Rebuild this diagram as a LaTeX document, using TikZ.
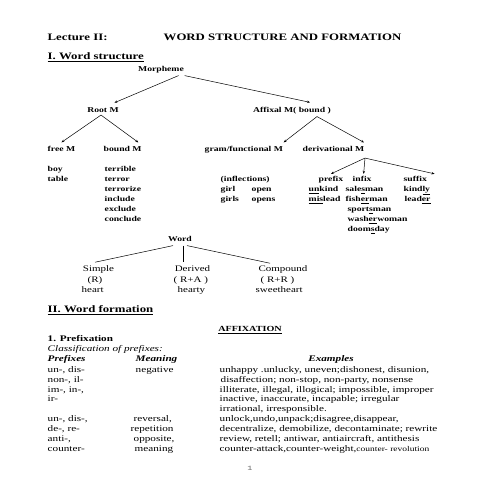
\documentclass[tikz,border=0pt]{standalone}
\usepackage{fontspec}
\setmainfont{Liberation Serif}[FakeStretch=1.3]
\setmonofont{Liberation Mono}[FakeStretch=1.3]
\usetikzlibrary{arrows.meta}

\begin{document}
\begin{tikzpicture}[
    x=1pt, y=-1pt,
    txt/.style={inner sep=0.5pt, anchor=mid west},
    head/.style={txt, font=\fontsize{9.85}{11}\selectfont\bfseries},
    tree/.style={inner sep=0.5pt, anchor=mid, font=\fontsize{7.45}{8}\selectfont\bfseries},
    wrd/.style={tree, anchor=mid west},
    kind/.style={inner sep=0.5pt, anchor=mid, font=\fontsize{8.45}{9}\selectfont},
    kindw/.style={kind, anchor=mid west},
    body/.style={txt, font=\fontsize{8.6}{9}\selectfont},
    colhead/.style={txt, font=\fontsize{8.6}{9}\selectfont\bfseries\itshape},
    arr/.style={-{Stealth[length=3pt,width=2.4pt]}, line width=0.5pt},
    link/.style={line width=0.5pt},
]
\useasboundingbox (0,0) rectangle (495,495);
\fill[white] (0,0) rectangle (495,495);

% headings
\node[head] (lect) at (47,38) {Lecture II:};
\node[head] (title) at (163,38) {WORD STRUCTURE AND FORMATION};
\node[head] (sec1) at (47,57) {\underline{I. Word structure}};

% morpheme tree
\node[tree] (morph) at (161,69) {Morpheme};
\node[tree] (root) at (103,110) {Root M};
\node[tree] (affix) at (292,110) {Affixal M( bound )};
\node[wrd] (free) at (47,149) {free M};
\node[wrd] (bound) at (103,149) {bound M};
\node[wrd] (gram) at (204,149) {gram/functional M};
\node[wrd] (deriv) at (302,149) {derivational M};

\node[wrd] (boy) at (47,169) {boy};
\node[wrd] (table) at (47,179) {table};
\node[wrd] (terrible) at (104,169) {terrible};
\node[wrd] (terror) at (104,179) {terror};
\node[wrd] (terrorize) at (104,189) {terrorize};
\node[wrd] (include) at (104,199) {include};
\node[wrd] (exclude) at (104,209) {exclude};
\node[wrd] (conclude) at (104,219) {conclude};

\node[wrd] (infl) at (220,179) {(inflections)};
\node[wrd] (girl) at (220,189) {girl};
\node[wrd] (girls) at (220,199) {girls};
\node[wrd] (open) at (251,189) {open};
\node[wrd] (opens) at (251,199) {opens};

\node[wrd] (prefix) at (318,179) {prefix};
\node[wrd] (infix) at (352,179) {infix};
\node[wrd] (suffix) at (403,179) {suffix};
\node[wrd] (unkind) at (308,189) {\underline{un}kind};
\node[wrd] (mislead) at (308,199) {\underline{mis}lead};
\node[wrd] (salesman) at (345,189) {sale\underline{s}man};
\node[wrd] (fisherman) at (345,199) {fish\underline{er}man};
\node[wrd] (sportsman) at (347,209) {sport\underline{s}man};
\node[wrd] (washer) at (347,219) {wash\underline{er}woman};
\node[wrd] (doomsday) at (347,229) {doom\underline{s}day};
\node[wrd] (kindly) at (403,189) {kind\underline{ly}};
\node[wrd] (leader) at (404,199) {lead\underline{er}};

\draw[arr] ([xshift=-6pt,yshift=-2pt]morph.south east) -- ([xshift=-5pt,yshift=4pt]root.north east);
\draw[arr] ([yshift=-2pt]morph.south east) -- ([xshift=18pt,yshift=4pt]affix.north);
\draw[arr] ([xshift=-2pt,yshift=-2pt]root.south) -- ([yshift=3pt]free.north);
\draw[arr] ([xshift=-2pt,yshift=-2pt]root.south) -- ([xshift=-4pt,yshift=3pt]bound.north east);
\draw[arr] ([xshift=25pt,yshift=-2pt]affix.south) -- ([yshift=3pt]gram.north east);
\draw[arr] ([xshift=25pt,yshift=-2pt]affix.south) -- ([xshift=-1pt,yshift=3pt]deriv.north east);
\draw[arr] ([yshift=-6pt]deriv.south east) -- ([yshift=1.5pt]prefix.north);
\draw[arr] ([yshift=-6pt]deriv.south east) -- ([xshift=1.5pt,yshift=1.5pt]infix.north);
\draw[arr] ([yshift=-6pt]deriv.south east) -- ([xshift=7pt,yshift=1.5pt]suffix.north east);

% word tree
\node[tree] (word) at (180,239) {Word};
\node[kind] (simple) at (98.5,269) {Simple};
\node[kindw] (simpr) at (87,280) {(R)};
\node[kindw] (heart) at (81,290) {heart};
\node[kind] (derived) at (192.5,269) {Derived};
\node[kindw] (derivr) at (173,280) {( R+A )};
\node[kindw] (hearty) at (177,290) {hearty};
\node[kind] (compound) at (283,269) {Compound};
\node[kindw] (compr) at (260,280) {( R+R )};
\node[kindw] (sweet) at (255,290) {sweetheart};

\draw[link] ([xshift=-7pt,yshift=-3.5pt]word.south) -- ([xshift=-3.5pt,yshift=2.5pt]simple.north);
\draw[link] ([xshift=3pt,yshift=-3.5pt]word.south) -- ([xshift=-9.5pt,yshift=2.5pt]derived.north);
\draw[link] ([xshift=7pt,yshift=-3.5pt]word.south) -- ([xshift=-13pt,yshift=1.5pt]compound.north);

% word formation
\node[head] (sec2) at (47,310) {\underline{II. Word formation}};
\node[txt, anchor=mid, font=\fontsize{7.8}{8}\selectfont\bfseries] (affixation) at (250,329) {\underline{AFFIXATION}};
\node[body, font=\fontsize{8.6}{9}\selectfont\bfseries] (prefixation) at (47,339) {1. Prefixation};
\node[body, font=\fontsize{8.6}{9}\selectfont\itshape] (classif) at (47,349) {Classification of prefixes:};
\node[colhead] (hpref) at (47,359) {Prefixes};
\node[colhead] (hmean) at (135,359) {Meaning};
\node[colhead, anchor=mid] (hexam) at (331,359) {Examples};

\node[body] (p1) at (47,370) {un-, dis-};
\node[body] (p2) at (47,379.9) {non-, il-};
\node[body] (p3) at (47,389.8) {im-, in-,};
\node[body] (p4) at (47,399.7) {ir-};
\node[body] (p5) at (47,419.5) {un-, dis-,};
\node[body] (p6) at (47,429.4) {de-, re-};
\node[body] (p7) at (47,439.3) {anti-,};
\node[body] (p8) at (47,449.2) {counter-};

\node[body] (m1) at (135,370) {negative};
\node[body] (m5) at (133,419.5) {reversal,};
\node[body] (m6) at (130,429.4) {repetition};
\node[body] (m7) at (133,439.3) {opposite,};
\node[body] (m8) at (134,449.2) {meaning};

\node[body] (e1) at (219,370) {unhappy .unlucky, uneven;dishonest, disunion,};
\node[body] (e2) at (220,379.9) {disaffection; non-stop, non-party, nonsense};
\node[body] (e3) at (219,389.8) {illiterate, illegal, illogical; impossible, improper};
\node[body] (e4) at (219,399.7) {inactive, inaccurate, incapable; irregular};
\node[body] (e5) at (219,409.6) {irrational, irresponsible.};
\node[body] (e6) at (219,419.5) {unlock,undo,unpack;disagree,disappear,};
\node[body] (e7) at (219,429.4) {decentralize, demobilize, decontaminate; rewrite};
\node[body] (e8) at (219,439.3) {review, retell; antiwar, antiaircraft, antithesis};
\node[body] (e9) at (219,449.2) {counter-attack,counter-weight,{\fontsize{7.3}{8}\selectfont counter- revolution}};

\node[inner sep=0.5pt, font=\ttfamily\fontsize{6.5}{7}\selectfont, text=black!60] (pagenum) at (250,468) {1};
\end{tikzpicture}
\end{document}
